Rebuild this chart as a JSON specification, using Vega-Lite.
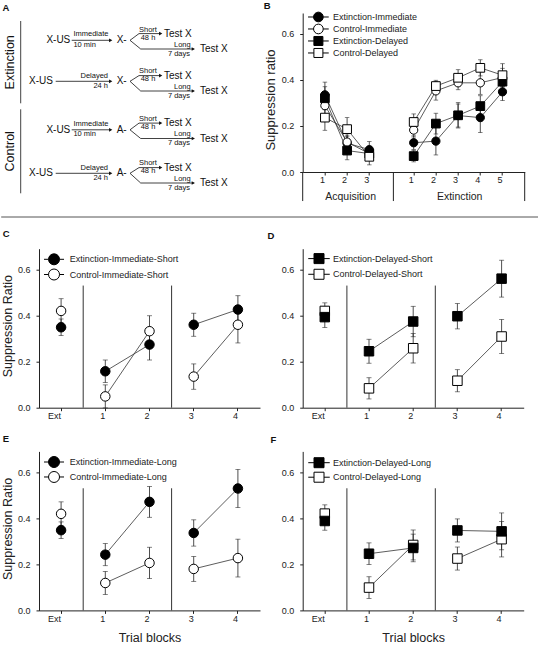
{
"$schema":"https://vega.github.io/schema/vega-lite/v6.json",
"background":"white",
"padding":{"left":-10,"top":-10,"right":0,"bottom":0},
"autosize":{"type":"pad"},
"config":{
 "font":"Liberation Sans",
 "view":{"stroke":null},
 "axis":{"grid":false,"domainColor":"#222","tickColor":"#222","tickSize":3,"labelFontSize":9,"labelColor":"#222","titleFontSize":12.5,"titleFontWeight":"normal","titleColor":"#222","labelPadding":5,"domainWidth":1,"tickWidth":1},
 "axisY":{"labelPadding":6},
 "title":{"anchor":"start","frame":"group","offset":0,"baseline":"alphabetic","fontSize":9.5,"fontWeight":"bold","color":"#111"}
},
"datasets":{
 "acq":[
  {"phase":"Acquisition","trial":"Acq 1","group":"Extinction-Immediate","sr":0.335,"sem":0.055},
  {"phase":"Acquisition","trial":"Acq 2","group":"Extinction-Immediate","sr":0.125,"sem":0.03},
  {"phase":"Acquisition","trial":"Acq 3","group":"Extinction-Immediate","sr":0.097,"sem":0.035},
  {"phase":"Extinction","trial":"Ext 1","group":"Extinction-Immediate","sr":0.127,"sem":0.03},
  {"phase":"Extinction","trial":"Ext 2","group":"Extinction-Immediate","sr":0.134,"sem":0.06},
  {"phase":"Extinction","trial":"Ext 3","group":"Extinction-Immediate","sr":0.245,"sem":0.05},
  {"phase":"Extinction","trial":"Ext 4","group":"Extinction-Immediate","sr":0.236,"sem":0.065},
  {"phase":"Extinction","trial":"Ext 5","group":"Extinction-Immediate","sr":0.348,"sem":0.038},
  {"phase":"Acquisition","trial":"Acq 1","group":"Control-Immediate","sr":0.288,"sem":0.04},
  {"phase":"Acquisition","trial":"Acq 2","group":"Control-Immediate","sr":0.13,"sem":0.03},
  {"phase":"Acquisition","trial":"Acq 3","group":"Control-Immediate","sr":0.08,"sem":0.03},
  {"phase":"Extinction","trial":"Ext 1","group":"Control-Immediate","sr":0.182,"sem":0.03},
  {"phase":"Extinction","trial":"Ext 2","group":"Control-Immediate","sr":0.352,"sem":0.04},
  {"phase":"Extinction","trial":"Ext 3","group":"Control-Immediate","sr":0.387,"sem":0.03},
  {"phase":"Extinction","trial":"Ext 4","group":"Control-Immediate","sr":0.387,"sem":0.05},
  {"phase":"Extinction","trial":"Ext 5","group":"Control-Immediate","sr":0.41,"sem":0.04},
  {"phase":"Acquisition","trial":"Acq 1","group":"Extinction-Delayed","sr":0.32,"sem":0.05},
  {"phase":"Acquisition","trial":"Acq 2","group":"Extinction-Delayed","sr":0.093,"sem":0.04},
  {"phase":"Acquisition","trial":"Acq 3","group":"Extinction-Delayed","sr":0.08,"sem":0.03},
  {"phase":"Extinction","trial":"Ext 1","group":"Extinction-Delayed","sr":0.069,"sem":0.025},
  {"phase":"Extinction","trial":"Ext 2","group":"Extinction-Delayed","sr":0.21,"sem":0.045},
  {"phase":"Extinction","trial":"Ext 3","group":"Extinction-Delayed","sr":0.246,"sem":0.055},
  {"phase":"Extinction","trial":"Ext 4","group":"Extinction-Delayed","sr":0.286,"sem":0.045},
  {"phase":"Extinction","trial":"Ext 5","group":"Extinction-Delayed","sr":0.392,"sem":0.035},
  {"phase":"Acquisition","trial":"Acq 1","group":"Control-Delayed","sr":0.236,"sem":0.055},
  {"phase":"Acquisition","trial":"Acq 2","group":"Control-Delayed","sr":0.186,"sem":0.05},
  {"phase":"Acquisition","trial":"Acq 3","group":"Control-Delayed","sr":0.066,"sem":0.035},
  {"phase":"Extinction","trial":"Ext 1","group":"Control-Delayed","sr":0.217,"sem":0.035},
  {"phase":"Extinction","trial":"Ext 2","group":"Control-Delayed","sr":0.373,"sem":0.025},
  {"phase":"Extinction","trial":"Ext 3","group":"Control-Delayed","sr":0.409,"sem":0.035},
  {"phase":"Extinction","trial":"Ext 4","group":"Control-Delayed","sr":0.452,"sem":0.035},
  {"phase":"Extinction","trial":"Ext 5","group":"Control-Delayed","sr":0.42,"sem":0.05}
 ],
 "tests":[
  {"panel":"C","block":"Ext","seg":"ext","group":"Extinction-Immediate-Short","sr":0.349,"sem":0.036},
  {"panel":"C","block":"1","seg":"early","group":"Extinction-Immediate-Short","sr":0.158,"sem":0.049},
  {"panel":"C","block":"2","seg":"early","group":"Extinction-Immediate-Short","sr":0.274,"sem":0.067},
  {"panel":"C","block":"3","seg":"late","group":"Extinction-Immediate-Short","sr":0.36,"sem":0.05},
  {"panel":"C","block":"4","seg":"late","group":"Extinction-Immediate-Short","sr":0.426,"sem":0.06},
  {"panel":"C","block":"Ext","seg":"ext","group":"Control-Immediate-Short","sr":0.42,"sem":0.053},
  {"panel":"C","block":"1","seg":"early","group":"Control-Immediate-Short","sr":0.049,"sem":0.05},
  {"panel":"C","block":"2","seg":"early","group":"Control-Immediate-Short","sr":0.332,"sem":0.067},
  {"panel":"C","block":"3","seg":"late","group":"Control-Immediate-Short","sr":0.135,"sem":0.055},
  {"panel":"C","block":"4","seg":"late","group":"Control-Immediate-Short","sr":0.36,"sem":0.079},
  {"panel":"D","block":"Ext","seg":"ext","group":"Extinction-Delayed-Short","sr":0.393,"sem":0.045},
  {"panel":"D","block":"1","seg":"early","group":"Extinction-Delayed-Short","sr":0.245,"sem":0.052},
  {"panel":"D","block":"2","seg":"early","group":"Extinction-Delayed-Short","sr":0.374,"sem":0.066},
  {"panel":"D","block":"3","seg":"late","group":"Extinction-Delayed-Short","sr":0.397,"sem":0.055},
  {"panel":"D","block":"4","seg":"late","group":"Extinction-Delayed-Short","sr":0.56,"sem":0.08},
  {"panel":"D","block":"Ext","seg":"ext","group":"Control-Delayed-Short","sr":0.42,"sem":0.035},
  {"panel":"D","block":"1","seg":"early","group":"Control-Delayed-Short","sr":0.084,"sem":0.046},
  {"panel":"D","block":"2","seg":"early","group":"Control-Delayed-Short","sr":0.258,"sem":0.064},
  {"panel":"D","block":"3","seg":"late","group":"Control-Delayed-Short","sr":0.117,"sem":0.048},
  {"panel":"D","block":"4","seg":"late","group":"Control-Delayed-Short","sr":0.309,"sem":0.074},
  {"panel":"E","block":"Ext","seg":"ext","group":"Extinction-Immediate-Long","sr":0.348,"sem":0.036},
  {"panel":"E","block":"1","seg":"early","group":"Extinction-Immediate-Long","sr":0.242,"sem":0.048},
  {"panel":"E","block":"2","seg":"early","group":"Extinction-Immediate-Long","sr":0.471,"sem":0.067},
  {"panel":"E","block":"3","seg":"late","group":"Extinction-Immediate-Long","sr":0.336,"sem":0.057},
  {"panel":"E","block":"4","seg":"late","group":"Extinction-Immediate-Long","sr":0.529,"sem":0.083},
  {"panel":"E","block":"Ext","seg":"ext","group":"Control-Immediate-Long","sr":0.419,"sem":0.052},
  {"panel":"E","block":"1","seg":"early","group":"Control-Immediate-Long","sr":0.119,"sem":0.05},
  {"panel":"E","block":"2","seg":"early","group":"Control-Immediate-Long","sr":0.206,"sem":0.068},
  {"panel":"E","block":"3","seg":"late","group":"Control-Immediate-Long","sr":0.18,"sem":0.054},
  {"panel":"E","block":"4","seg":"late","group":"Control-Immediate-Long","sr":0.227,"sem":0.082},
  {"panel":"F","block":"Ext","seg":"ext","group":"Extinction-Delayed-Long","sr":0.388,"sem":0.04},
  {"panel":"F","block":"1","seg":"early","group":"Extinction-Delayed-Long","sr":0.246,"sem":0.047},
  {"panel":"F","block":"2","seg":"early","group":"Extinction-Delayed-Long","sr":0.271,"sem":0.06},
  {"panel":"F","block":"3","seg":"late","group":"Extinction-Delayed-Long","sr":0.347,"sem":0.05},
  {"panel":"F","block":"4","seg":"late","group":"Extinction-Delayed-Long","sr":0.343,"sem":0.08},
  {"panel":"F","block":"Ext","seg":"ext","group":"Control-Delayed-Long","sr":0.42,"sem":0.038},
  {"panel":"F","block":"1","seg":"early","group":"Control-Delayed-Long","sr":0.099,"sem":0.047},
  {"panel":"F","block":"2","seg":"early","group":"Control-Delayed-Long","sr":0.284,"sem":0.065},
  {"panel":"F","block":"3","seg":"late","group":"Control-Delayed-Long","sr":0.225,"sem":0.05},
  {"panel":"F","block":"4","seg":"late","group":"Control-Delayed-Long","sr":0.309,"sem":0.077}
 ],
 "diagSeg":[
  {"x":71,"y":40,"x2":110,"y2":40},{"x":129.3,"y":40,"x2":138.3,"y2":33.3},{"x":138.3,"y":33.3,"x2":160,"y2":33.3},{"x":129.3,"y":40,"x2":140,"y2":48.7},{"x":140,"y":48.7,"x2":193,"y2":48.7},
  {"x":55,"y":81,"x2":110,"y2":81},{"x":129.3,"y":81,"x2":138.3,"y2":75.3},{"x":138.3,"y":75.3,"x2":160,"y2":75.3},{"x":129.3,"y":81,"x2":140,"y2":90.7},{"x":140,"y":90.7,"x2":193,"y2":90.7},
  {"x":71,"y":129.5,"x2":110,"y2":129.5},{"x":129.3,"y":129.5,"x2":138.3,"y2":122.8},{"x":138.3,"y":122.8,"x2":160,"y2":122.8},{"x":129.3,"y":129.5,"x2":140,"y2":138.2},{"x":140,"y":138.2,"x2":193,"y2":138.2},
  {"x":55,"y":173,"x2":110,"y2":173},{"x":129.3,"y":173,"x2":138.3,"y2":167.3},{"x":138.3,"y":167.3,"x2":160,"y2":167.3},{"x":129.3,"y":173,"x2":140,"y2":182.7},{"x":140,"y":182.7,"x2":193,"y2":182.7},
  {"x":20,"y":20.7,"x2":20,"y2":103},{"x":20,"y":109,"x2":20,"y2":193}
 ],
 "diagHead":[
  {"x":110,"y":40},{"x":160,"y":33.3},{"x":192.6,"y":48.7},
  {"x":110,"y":81},{"x":160,"y":75.3},{"x":192.6,"y":90.7},
  {"x":110,"y":129.5},{"x":160,"y":122.8},{"x":192.6,"y":138.2},
  {"x":110,"y":173},{"x":160,"y":167.3},{"x":192.6,"y":182.7}
 ],
 "diagBig":[
  {"t":"X-US","x":45.7,"y":40},{"t":"X-","x":116,"y":40},{"t":"Test X","x":163.3,"y":33.3},{"t":"Test X","x":199.3,"y":48.7},
  {"t":"X-US","x":28.3,"y":81},{"t":"X-","x":116,"y":81},{"t":"Test X","x":163.3,"y":75.3},{"t":"Test X","x":199.3,"y":90.7},
  {"t":"X-US","x":45.7,"y":129.5},{"t":"A-","x":116,"y":129.5},{"t":"Test X","x":163.3,"y":122.8},{"t":"Test X","x":199.3,"y":138.2},
  {"t":"X-US","x":28.3,"y":173},{"t":"A-","x":116,"y":173},{"t":"Test X","x":163.3,"y":167.3},{"t":"Test X","x":199.3,"y":182.7}
 ],
 "diagSmallL":[
  {"t":"Immediate","x":72.7,"y":34},{"t":"10 min","x":72.7,"y":44.3},{"t":"Short","x":138.3,"y":29.3},{"t":"48 h","x":140,"y":37.3},
  {"t":"Short","x":138.3,"y":70.7},{"t":"48 h","x":140,"y":79},
  {"t":"Immediate","x":72.7,"y":123.5},{"t":"10 min","x":72.7,"y":133.8},{"t":"Short","x":138.3,"y":118.8},{"t":"48 h","x":140,"y":126.8},
  {"t":"Short","x":138.3,"y":162.7},{"t":"48 h","x":140,"y":171}
 ],
 "diagSmallR":[
  {"t":"Long","x":190,"y":44.3},{"t":"7 days","x":189.3,"y":53.3},
  {"t":"Delayed","x":107.3,"y":76},{"t":"24 h","x":107.3,"y":85.5},{"t":"Long","x":190,"y":86.7},{"t":"7 days","x":189.3,"y":96},
  {"t":"Long","x":190,"y":133.8},{"t":"7 days","x":189.3,"y":142.8},
  {"t":"Delayed","x":107.3,"y":168},{"t":"24 h","x":107.3,"y":177.5},{"t":"Long","x":190,"y":178.7},{"t":"7 days","x":189.3,"y":188}
 ],
 "diagSide":[{"t":"Extinction","x":9,"y":62},{"t":"Control","x":9,"y":151}]
},
"columns":2,
"bounds":"flush",
"spacing":{"row":43.7,"column":42.7},
"concat":[
 {
  "width":221,"height":192,
  "encoding":{
   "x":{"field":"x","type":"quantitative","scale":{"domain":[38.3,259.3],"nice":false,"zero":false},"axis":null},
   "y":{"field":"y","type":"quantitative","scale":{"domain":[12.7,204.7],"reverse":true,"nice":false,"zero":false},"axis":null}
  },
  "layer":[
   {"data":{"values":[{"x":-10,"y":-10,"x2":538,"y2":-10}]},"mark":{"type":"rule","strokeOpacity":0,"strokeWidth":0},"encoding":{"x2":{"field":"x2"},"y2":{"field":"y2"}}},
   {"data":{"values":[{"x":0.5,"y":216.7,"x2":538,"y2":216.7}]},"mark":{"type":"rule","color":"#555","strokeWidth":1},"encoding":{"x2":{"field":"x2"},"y2":{"field":"y2"}}},
   {"data":{"name":"diagSeg"},"mark":{"type":"rule","color":"#111","strokeWidth":0.8},"encoding":{"x2":{"field":"x2"},"y2":{"field":"y2"}}},
   {"data":{"name":"diagHead"},"mark":{"type":"point","shape":"triangle-right","filled":true,"color":"#111","size":14,"opacity":1},"encoding":{}},
   {"data":{"name":"diagBig"},"mark":{"type":"text","align":"left","baseline":"middle","fontSize":10,"color":"#111"},"encoding":{"text":{"field":"t"}}},
   {"data":{"name":"diagSmallL"},"mark":{"type":"text","align":"left","baseline":"middle","fontSize":7.5,"color":"#111"},"encoding":{"text":{"field":"t"}}},
   {"data":{"name":"diagSmallR"},"mark":{"type":"text","align":"right","baseline":"middle","fontSize":7.5,"color":"#111"},"encoding":{"text":{"field":"t"}}},
   {"data":{"name":"diagSide"},"mark":{"type":"text","align":"center","baseline":"middle","angle":270,"fontSize":12.5,"color":"#111"},"encoding":{"text":{"field":"t"}}},
   {"data":{"values":[{"t":"A","x":1.8,"y":10.3}]},"mark":{"type":"text","align":"left","baseline":"alphabetic","fontSize":9.5,"fontWeight":"bold","color":"#111"},"encoding":{"text":{"field":"t"}}}
  ]
 },
 {
  "width":222,"height":159,
  "title":{"text":"B","dx":-39,"dy":4.3},
  "data":{"name":"acq"},
  "layer":[
   {"data":{"values":[{}]},"mark":{"type":"rule","color":"#222","strokeWidth":1},"encoding":{"x":{"datum":"Acq 1","type":"ordinal","bandPosition":-0.5},"y":{"datum":0,"type":"quantitative"},"y2":{"datum":-0.126}}},
   {"data":{"values":[{}]},"mark":{"type":"rule","color":"#222","strokeWidth":1},"encoding":{"x":{"datum":"sep","type":"ordinal","bandPosition":0.585},"y":{"datum":0,"type":"quantitative"},"y2":{"datum":-0.126}}},
   {"data":{"values":[{}]},"mark":{"type":"rule","color":"#222","strokeWidth":1},"encoding":{"x":{"datum":"Ext 5","type":"ordinal","bandPosition":1.5},"y":{"datum":0,"type":"quantitative"},"y2":{"datum":-0.126}}},
   {"data":{"values":[{}]},"mark":{"type":"text","text":"Acquisition","fontSize":10.5,"baseline":"middle","color":"#222"},"encoding":{"x":{"datum":"Acq 2","type":"ordinal","bandPosition":0.66},"y":{"datum":-0.108,"type":"quantitative"}}},
   {"data":{"values":[{}]},"mark":{"type":"text","text":"Extinction","fontSize":10.5,"baseline":"middle","color":"#222"},"encoding":{"x":{"datum":"Ext 3","type":"ordinal","bandPosition":0.57},"y":{"datum":-0.108,"type":"quantitative"}}},
   {"mark":{"type":"line","color":"#333","strokeWidth":0.8},"encoding":{
     "x":{"field":"trial","type":"ordinal","title":null,"scale":{"type":"band","domain":["Acq 1","Acq 2","Acq 3","sep","Ext 1","Ext 2","Ext 3","Ext 4","Ext 5"],"paddingInner":0,"paddingOuter":0.5},"axis":{"values":["Acq 1","Acq 2","Acq 3","Ext 1","Ext 2","Ext 3","Ext 4","Ext 5"],"labelExpr":"split(datum.label, ' ')[1]","title":null,"labelAngle":0,"labelPadding":4}},
     "y":{"field":"sr","type":"quantitative","title":"Suppression ratio","scale":{"domain":[0,0.69],"nice":false,"zero":false},"axis":{"values":[0,0.1,0.2,0.3,0.4,0.5,0.6],"format":".1f","title":"Suppression ratio","titlePadding":3.5,"titleFontSize":13,"titleY":86.5}},
     "detail":[{"field":"group"},{"field":"phase"}]}},
   {"mark":{"type":"errorbar","ticks":{"size":4.5},"thickness":0.8,"color":"#222"},"encoding":{
     "x":{"field":"trial","type":"ordinal","title":null},
     "y":{"field":"sr","type":"quantitative","title":"Suppression ratio"},
     "yError":{"field":"sem"}}},
   {"transform":[{"filter":"datum.group === 'Extinction-Immediate'"}],"mark":{"type":"point","shape":"circle","filled":true,"fill":"black","stroke":"black","strokeWidth":1,"size":68,"opacity":1},"encoding":{"x":{"field":"trial","type":"ordinal","title":null},"y":{"field":"sr","type":"quantitative","title":"Suppression ratio"}}},
   {"transform":[{"filter":"datum.group === 'Control-Immediate'"}],"mark":{"type":"point","shape":"circle","filled":true,"fill":"white","stroke":"black","strokeWidth":1,"size":68,"opacity":1},"encoding":{"x":{"field":"trial","type":"ordinal","title":null},"y":{"field":"sr","type":"quantitative","title":"Suppression ratio"}}},
   {"transform":[{"filter":"datum.group === 'Extinction-Delayed'"}],"mark":{"type":"point","shape":"square","filled":true,"fill":"black","stroke":"black","strokeWidth":1,"size":76,"opacity":1},"encoding":{"x":{"field":"trial","type":"ordinal","title":null},"y":{"field":"sr","type":"quantitative","title":"Suppression ratio"}}},
   {"transform":[{"filter":"datum.group === 'Control-Delayed'"}],"mark":{"type":"point","shape":"square","filled":true,"fill":"white","stroke":"black","strokeWidth":1,"size":76,"opacity":1},"encoding":{"x":{"field":"trial","type":"ordinal","title":null},"y":{"field":"sr","type":"quantitative","title":"Suppression ratio"}}},
   {"data":{"values":[{}]},"mark":{"type":"point","shape":"M -2.07 0 H -0.97 M 0.97 0 H 2.07 M 0.97 0 A 0.97 0.97 0 1 1 -0.97 0 A 0.97 0.97 0 1 1 0.97 0 Z","filled":true,"fill":"black","stroke":"black","strokeWidth":1,"size":100,"opacity":1},"encoding":{"x":{"datum":"Acq 1","type":"ordinal","bandPosition":0.207},"y":{"datum":0.6727,"type":"quantitative"}}},
   {"data":{"values":[{}]},"mark":{"type":"point","shape":"M -2.07 0 H -0.97 M 0.97 0 H 2.07 M 0.97 0 A 0.97 0.97 0 1 1 -0.97 0 A 0.97 0.97 0 1 1 0.97 0 Z","filled":true,"fill":"white","stroke":"black","strokeWidth":1,"size":100,"opacity":1},"encoding":{"x":{"datum":"Acq 1","type":"ordinal","bandPosition":0.207},"y":{"datum":0.6207,"type":"quantitative"}}},
   {"data":{"values":[{}]},"mark":{"type":"point","shape":"M -2.07 0 H -0.9 M 0.9 0 H 2.07 M -0.9 -0.9 H 0.9 V 0.9 H -0.9 Z","filled":true,"fill":"black","stroke":"black","strokeWidth":1,"size":100,"opacity":1},"encoding":{"x":{"datum":"Acq 1","type":"ordinal","bandPosition":0.207},"y":{"datum":0.5686,"type":"quantitative"}}},
   {"data":{"values":[{}]},"mark":{"type":"point","shape":"M -2.07 0 H -0.9 M 0.9 0 H 2.07 M -0.9 -0.9 H 0.9 V 0.9 H -0.9 Z","filled":true,"fill":"white","stroke":"black","strokeWidth":1,"size":100,"opacity":1},"encoding":{"x":{"datum":"Acq 1","type":"ordinal","bandPosition":0.207},"y":{"datum":0.5165,"type":"quantitative"}}},
   {"data":{"values":[{}]},"mark":{"type":"text","text":"Extinction-Immediate","align":"left","baseline":"middle","fontSize":9,"color":"#222"},"encoding":{"x":{"datum":"Acq 1","type":"ordinal","bandPosition":0.865},"y":{"datum":0.6727,"type":"quantitative"}}},
   {"data":{"values":[{}]},"mark":{"type":"text","text":"Control-Immediate","align":"left","baseline":"middle","fontSize":9,"color":"#222"},"encoding":{"x":{"datum":"Acq 1","type":"ordinal","bandPosition":0.865},"y":{"datum":0.6207,"type":"quantitative"}}},
   {"data":{"values":[{}]},"mark":{"type":"text","text":"Extinction-Delayed","align":"left","baseline":"middle","fontSize":9,"color":"#222"},"encoding":{"x":{"datum":"Acq 1","type":"ordinal","bandPosition":0.865},"y":{"datum":0.5686,"type":"quantitative"}}},
   {"data":{"values":[{}]},"mark":{"type":"text","text":"Control-Delayed","align":"left","baseline":"middle","fontSize":9,"color":"#222"},"encoding":{"x":{"datum":"Acq 1","type":"ordinal","bandPosition":0.865},"y":{"datum":0.5165,"type":"quantitative"}}}
  ]
 },
 {
  "width":221,"height":159,
  "title":{"text":"C","dx":-36.3,"dy":-6},
  "data":{"name":"tests"},
  "transform":[{"filter":"datum.panel === 'C'"}],
  "layer":[
   {"data":{"values":[{}]},"mark":{"type":"rule","color":"#333","strokeWidth":1},"encoding":{"x":{"datum":"1","type":"ordinal","bandPosition":0},"y":{"datum":0,"type":"quantitative"},"y2":{"datum":0.53}}},
   {"data":{"values":[{}]},"mark":{"type":"rule","color":"#333","strokeWidth":1},"encoding":{"x":{"datum":"3","type":"ordinal","bandPosition":0},"y":{"datum":0,"type":"quantitative"},"y2":{"datum":0.53}}},
   {"mark":{"type":"line","color":"#333","strokeWidth":0.8},"encoding":{
     "x":{"field":"block","type":"ordinal","title":null,"scale":{"type":"band","domain":["Ext","1","2","3","4"],"paddingInner":0,"paddingOuter":0},"axis":{"labelAngle":0,"title":null}},
     "y":{"field":"sr","type":"quantitative","title":"Suppression Ratio","scale":{"domain":[0,0.69],"nice":false,"zero":false},"axis":{"values":[0,0.1,0.2,0.3,0.4,0.5,0.6],"format":".1f","title":"Suppression Ratio","titlePadding":3,"titleY":77}},
     "detail":[{"field":"group"},{"field":"seg"}]}},
   {"mark":{"type":"errorbar","ticks":{"size":5},"thickness":0.8,"color":"#222"},"encoding":{"x":{"field":"block","type":"ordinal","title":null},"y":{"field":"sr","type":"quantitative","title":"Suppression Ratio"},"yError":{"field":"sem"}}},
   {"transform":[{"filter":"datum.group === 'Control-Immediate-Short'"}],"mark":{"type":"point","shape":"circle","filled":true,"fill":"white","stroke":"black","strokeWidth":1,"size":90,"opacity":1},"encoding":{"x":{"field":"block","type":"ordinal","title":null},"y":{"field":"sr","type":"quantitative","title":"Suppression Ratio"}}},
   {"transform":[{"filter":"datum.group === 'Extinction-Immediate-Short'"}],"mark":{"type":"point","shape":"circle","filled":true,"fill":"black","stroke":"black","strokeWidth":1,"size":90,"opacity":1},"encoding":{"x":{"field":"block","type":"ordinal","title":null},"y":{"field":"sr","type":"quantitative","title":"Suppression Ratio"}}},
   {"data":{"values":[{}]},"mark":{"type":"point","shape":"M -2 0 H -1.1 M 1.1 0 H 2 M 1.1 0 A 1.1 1.1 0 1 1 -1.1 0 A 1.1 1.1 0 1 1 1.1 0 Z","filled":true,"fill":"black","stroke":"black","strokeWidth":1,"size":100,"opacity":1},"encoding":{"x":{"datum":"Ext","type":"ordinal","bandPosition":0.34},"y":{"datum":0.644,"type":"quantitative"}}},
   {"data":{"values":[{}]},"mark":{"type":"point","shape":"M -2 0 H -1.1 M 1.1 0 H 2 M 1.1 0 A 1.1 1.1 0 1 1 -1.1 0 A 1.1 1.1 0 1 1 1.1 0 Z","filled":true,"fill":"white","stroke":"black","strokeWidth":1,"size":100,"opacity":1},"encoding":{"x":{"datum":"Ext","type":"ordinal","bandPosition":0.34},"y":{"datum":0.578,"type":"quantitative"}}},
   {"data":{"values":[{}]},"mark":{"type":"text","text":"Extinction-Immediate-Short","align":"left","baseline":"middle","fontSize":9,"color":"#222"},"encoding":{"x":{"datum":"Ext","type":"ordinal","bandPosition":0.695},"y":{"datum":0.644,"type":"quantitative"}}},
   {"data":{"values":[{}]},"mark":{"type":"text","text":"Control-Immediate-Short","align":"left","baseline":"middle","fontSize":9,"color":"#222"},"encoding":{"x":{"datum":"Ext","type":"ordinal","bandPosition":0.695},"y":{"datum":0.578,"type":"quantitative"}}}
  ]
 },
 {
  "width":221,"height":159,
  "title":{"text":"D","dx":-35.3,"dy":-4.3},
  "data":{"name":"tests"},
  "transform":[{"filter":"datum.panel === 'D'"}],
  "layer":[
   {"data":{"values":[{}]},"mark":{"type":"rule","color":"#333","strokeWidth":1},"encoding":{"x":{"datum":"1","type":"ordinal","bandPosition":0},"y":{"datum":0,"type":"quantitative"},"y2":{"datum":0.53}}},
   {"data":{"values":[{}]},"mark":{"type":"rule","color":"#333","strokeWidth":1},"encoding":{"x":{"datum":"3","type":"ordinal","bandPosition":0},"y":{"datum":0,"type":"quantitative"},"y2":{"datum":0.53}}},
   {"mark":{"type":"line","color":"#333","strokeWidth":0.8},"encoding":{
     "x":{"field":"block","type":"ordinal","title":null,"scale":{"type":"band","domain":["Ext","1","2","3","4"],"paddingInner":0,"paddingOuter":0},"axis":{"labelAngle":0,"title":null}},
     "y":{"field":"sr","type":"quantitative","title":null,"scale":{"domain":[0,0.69],"nice":false,"zero":false},"axis":{"values":[0,0.1,0.2,0.3,0.4,0.5,0.6],"format":".1f","title":null}},
     "detail":[{"field":"group"},{"field":"seg"}]}},
   {"mark":{"type":"errorbar","ticks":{"size":5},"thickness":0.8,"color":"#222"},"encoding":{"x":{"field":"block","type":"ordinal","title":null},"y":{"field":"sr","type":"quantitative","title":null},"yError":{"field":"sem"}}},
   {"transform":[{"filter":"datum.group === 'Control-Delayed-Short'"}],"mark":{"type":"point","shape":"square","filled":true,"fill":"white","stroke":"black","strokeWidth":1,"size":90,"opacity":1},"encoding":{"x":{"field":"block","type":"ordinal","title":null},"y":{"field":"sr","type":"quantitative","title":null}}},
   {"transform":[{"filter":"datum.group === 'Extinction-Delayed-Short'"}],"mark":{"type":"point","shape":"square","filled":true,"fill":"black","stroke":"black","strokeWidth":1,"size":90,"opacity":1},"encoding":{"x":{"field":"block","type":"ordinal","title":null},"y":{"field":"sr","type":"quantitative","title":null}}},
   {"data":{"values":[{}]},"mark":{"type":"point","shape":"M -2.15 0 H -1 M 1 0 H 2.15 M -1 -1 H 1 V 1 H -1 Z","filled":true,"fill":"black","stroke":"black","strokeWidth":1,"size":100,"opacity":1},"encoding":{"x":{"datum":"Ext","type":"ordinal","bandPosition":0.369},"y":{"datum":0.647,"type":"quantitative"}}},
   {"data":{"values":[{}]},"mark":{"type":"point","shape":"M -2.15 0 H -1 M 1 0 H 2.15 M -1 -1 H 1 V 1 H -1 Z","filled":true,"fill":"white","stroke":"black","strokeWidth":1,"size":100,"opacity":1},"encoding":{"x":{"datum":"Ext","type":"ordinal","bandPosition":0.369},"y":{"datum":0.579,"type":"quantitative"}}},
   {"data":{"values":[{}]},"mark":{"type":"text","text":"Extinction-Delayed-Short","align":"left","baseline":"middle","fontSize":9,"color":"#222"},"encoding":{"x":{"datum":"Ext","type":"ordinal","bandPosition":0.686},"y":{"datum":0.647,"type":"quantitative"}}},
   {"data":{"values":[{}]},"mark":{"type":"text","text":"Control-Delayed-Short","align":"left","baseline":"middle","fontSize":9,"color":"#222"},"encoding":{"x":{"datum":"Ext","type":"ordinal","bandPosition":0.686},"y":{"datum":0.579,"type":"quantitative"}}}
  ]
 },
 {
  "width":221,"height":159,
  "title":{"text":"E","dx":-36.3,"dy":-4},
  "data":{"name":"tests"},
  "transform":[{"filter":"datum.panel === 'E'"}],
  "layer":[
   {"data":{"values":[{}]},"mark":{"type":"rule","color":"#333","strokeWidth":1},"encoding":{"x":{"datum":"1","type":"ordinal","bandPosition":0},"y":{"datum":0,"type":"quantitative"},"y2":{"datum":0.53}}},
   {"data":{"values":[{}]},"mark":{"type":"rule","color":"#333","strokeWidth":1},"encoding":{"x":{"datum":"3","type":"ordinal","bandPosition":0},"y":{"datum":0,"type":"quantitative"},"y2":{"datum":0.53}}},
   {"mark":{"type":"line","color":"#333","strokeWidth":0.8},"encoding":{
     "x":{"field":"block","type":"ordinal","title":"Trial blocks","scale":{"type":"band","domain":["Ext","1","2","3","4"],"paddingInner":0,"paddingOuter":0},"axis":{"labelAngle":0,"title":"Trial blocks","titlePadding":8.5}},
     "y":{"field":"sr","type":"quantitative","title":"Suppression Ratio","scale":{"domain":[0,0.69],"nice":false,"zero":false},"axis":{"values":[0,0.1,0.2,0.3,0.4,0.5,0.6],"format":".1f","title":"Suppression Ratio","titlePadding":3,"titleY":77}},
     "detail":[{"field":"group"},{"field":"seg"}]}},
   {"mark":{"type":"errorbar","ticks":{"size":5},"thickness":0.8,"color":"#222"},"encoding":{"x":{"field":"block","type":"ordinal","title":"Trial blocks"},"y":{"field":"sr","type":"quantitative","title":"Suppression Ratio"},"yError":{"field":"sem"}}},
   {"transform":[{"filter":"datum.group === 'Control-Immediate-Long'"}],"mark":{"type":"point","shape":"circle","filled":true,"fill":"white","stroke":"black","strokeWidth":1,"size":90,"opacity":1},"encoding":{"x":{"field":"block","type":"ordinal","title":"Trial blocks"},"y":{"field":"sr","type":"quantitative","title":"Suppression Ratio"}}},
   {"transform":[{"filter":"datum.group === 'Extinction-Immediate-Long'"}],"mark":{"type":"point","shape":"circle","filled":true,"fill":"black","stroke":"black","strokeWidth":1,"size":90,"opacity":1},"encoding":{"x":{"field":"block","type":"ordinal","title":"Trial blocks"},"y":{"field":"sr","type":"quantitative","title":"Suppression Ratio"}}},
   {"data":{"values":[{}]},"mark":{"type":"point","shape":"M -2 0 H -1.1 M 1.1 0 H 2 M 1.1 0 A 1.1 1.1 0 1 1 -1.1 0 A 1.1 1.1 0 1 1 1.1 0 Z","filled":true,"fill":"black","stroke":"black","strokeWidth":1,"size":100,"opacity":1},"encoding":{"x":{"datum":"Ext","type":"ordinal","bandPosition":0.34},"y":{"datum":0.644,"type":"quantitative"}}},
   {"data":{"values":[{}]},"mark":{"type":"point","shape":"M -2 0 H -1.1 M 1.1 0 H 2 M 1.1 0 A 1.1 1.1 0 1 1 -1.1 0 A 1.1 1.1 0 1 1 1.1 0 Z","filled":true,"fill":"white","stroke":"black","strokeWidth":1,"size":100,"opacity":1},"encoding":{"x":{"datum":"Ext","type":"ordinal","bandPosition":0.34},"y":{"datum":0.579,"type":"quantitative"}}},
   {"data":{"values":[{}]},"mark":{"type":"text","text":"Extinction-Immediate-Long","align":"left","baseline":"middle","fontSize":9,"color":"#222"},"encoding":{"x":{"datum":"Ext","type":"ordinal","bandPosition":0.695},"y":{"datum":0.644,"type":"quantitative"}}},
   {"data":{"values":[{}]},"mark":{"type":"text","text":"Control-Immediate-Long","align":"left","baseline":"middle","fontSize":9,"color":"#222"},"encoding":{"x":{"datum":"Ext","type":"ordinal","bandPosition":0.695},"y":{"datum":0.579,"type":"quantitative"}}}
  ]
 },
 {
  "width":221,"height":159,
  "title":{"text":"F","dx":-32.3,"dy":-3},
  "data":{"name":"tests"},
  "transform":[{"filter":"datum.panel === 'F'"}],
  "layer":[
   {"data":{"values":[{}]},"mark":{"type":"rule","color":"#333","strokeWidth":1},"encoding":{"x":{"datum":"1","type":"ordinal","bandPosition":0},"y":{"datum":0,"type":"quantitative"},"y2":{"datum":0.53}}},
   {"data":{"values":[{}]},"mark":{"type":"rule","color":"#333","strokeWidth":1},"encoding":{"x":{"datum":"3","type":"ordinal","bandPosition":0},"y":{"datum":0,"type":"quantitative"},"y2":{"datum":0.53}}},
   {"mark":{"type":"line","color":"#333","strokeWidth":0.8},"encoding":{
     "x":{"field":"block","type":"ordinal","title":"Trial blocks","scale":{"type":"band","domain":["Ext","1","2","3","4"],"paddingInner":0,"paddingOuter":0},"axis":{"labelAngle":0,"title":"Trial blocks","titlePadding":8.5}},
     "y":{"field":"sr","type":"quantitative","title":null,"scale":{"domain":[0,0.69],"nice":false,"zero":false},"axis":{"values":[0,0.1,0.2,0.3,0.4,0.5,0.6],"format":".1f","title":null}},
     "detail":[{"field":"group"},{"field":"seg"}]}},
   {"mark":{"type":"errorbar","ticks":{"size":5},"thickness":0.8,"color":"#222"},"encoding":{"x":{"field":"block","type":"ordinal","title":"Trial blocks"},"y":{"field":"sr","type":"quantitative","title":null},"yError":{"field":"sem"}}},
   {"transform":[{"filter":"datum.group === 'Control-Delayed-Long'"}],"mark":{"type":"point","shape":"square","filled":true,"fill":"white","stroke":"black","strokeWidth":1,"size":90,"opacity":1},"encoding":{"x":{"field":"block","type":"ordinal","title":"Trial blocks"},"y":{"field":"sr","type":"quantitative","title":null}}},
   {"transform":[{"filter":"datum.group === 'Extinction-Delayed-Long'"}],"mark":{"type":"point","shape":"square","filled":true,"fill":"black","stroke":"black","strokeWidth":1,"size":90,"opacity":1},"encoding":{"x":{"field":"block","type":"ordinal","title":"Trial blocks"},"y":{"field":"sr","type":"quantitative","title":null}}},
   {"data":{"values":[{}]},"mark":{"type":"point","shape":"M -2.15 0 H -1 M 1 0 H 2.15 M -1 -1 H 1 V 1 H -1 Z","filled":true,"fill":"black","stroke":"black","strokeWidth":1,"size":100,"opacity":1},"encoding":{"x":{"datum":"Ext","type":"ordinal","bandPosition":0.369},"y":{"datum":0.641,"type":"quantitative"}}},
   {"data":{"values":[{}]},"mark":{"type":"point","shape":"M -2.15 0 H -1 M 1 0 H 2.15 M -1 -1 H 1 V 1 H -1 Z","filled":true,"fill":"white","stroke":"black","strokeWidth":1,"size":100,"opacity":1},"encoding":{"x":{"datum":"Ext","type":"ordinal","bandPosition":0.369},"y":{"datum":0.578,"type":"quantitative"}}},
   {"data":{"values":[{}]},"mark":{"type":"text","text":"Extinction-Delayed-Long","align":"left","baseline":"middle","fontSize":9,"color":"#222"},"encoding":{"x":{"datum":"Ext","type":"ordinal","bandPosition":0.686},"y":{"datum":0.641,"type":"quantitative"}}},
   {"data":{"values":[{}]},"mark":{"type":"text","text":"Control-Delayed-Long","align":"left","baseline":"middle","fontSize":9,"color":"#222"},"encoding":{"x":{"datum":"Ext","type":"ordinal","bandPosition":0.686},"y":{"datum":0.578,"type":"quantitative"}}}
  ]
 }
]
}
